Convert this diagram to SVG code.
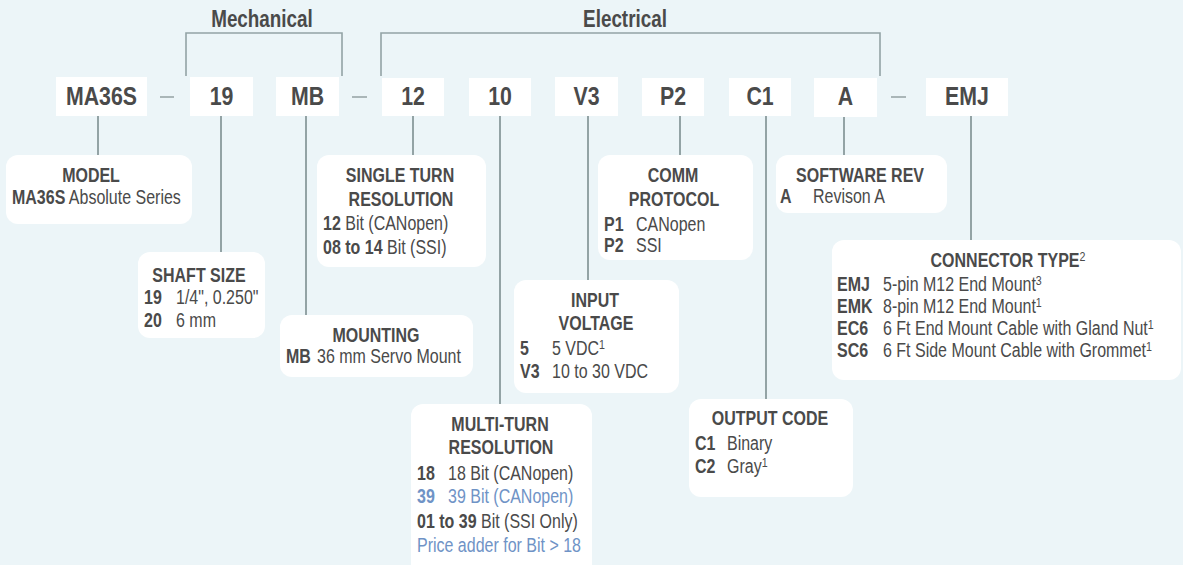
<svg xmlns="http://www.w3.org/2000/svg" width="1183" height="565" viewBox="0 0 1183 565">
<style>
text{font-family:"Liberation Sans Narrow","Arial Narrow","Liberation Sans",Arial,sans-serif;fill:#4a4a4a}
.code{font-size:26px;font-weight:bold;text-anchor:middle}
.grp{font-size:23px;font-weight:bold;text-anchor:middle}
.h{font-size:19.5px;font-weight:bold;text-anchor:middle}
.t{font-size:19.5px}
.b{font-weight:bold}
.blue{fill:#6f93c6}
.sup{font-size:13px;font-weight:normal}
.cbox{fill:#ffffff}
.dbox{fill:#ffffff}
.ln{stroke:#93a3a5;stroke-width:2;fill:none}
.br{stroke:#93a3a5;stroke-width:1.6;fill:none}
.dash{stroke:#aab6b8;stroke-width:2}
</style>
<rect x="0" y="0" width="1183" height="565" fill="#ecf5f8"/>

<g id="connectors">
  <polyline class="br" points="186,76 186,33 342,33 342,76"/>
  <polyline class="br" points="381,76 381,33 880,33 880,76"/>
  <line class="dash" x1="160" y1="97" x2="174" y2="97"/>
  <line class="dash" x1="352" y1="97" x2="367" y2="97"/>
  <line class="dash" x1="891" y1="97" x2="906" y2="97"/>
  <line class="ln" x1="98" y1="116" x2="98" y2="155"/>
  <line class="ln" x1="221" y1="116" x2="221" y2="252"/>
  <line class="ln" x1="306" y1="116" x2="306" y2="315"/>
  <line class="ln" x1="413" y1="116" x2="413" y2="155"/>
  <line class="ln" x1="500" y1="116" x2="500" y2="404"/>
  <line class="ln" x1="588" y1="116" x2="588" y2="280"/>
  <line class="ln" x1="680" y1="116" x2="680" y2="155"/>
  <line class="ln" x1="766" y1="116" x2="766" y2="399"/>
  <line class="ln" x1="844" y1="117" x2="844" y2="155"/>
  <line class="ln" x1="971" y1="116" x2="971" y2="240"/>
</g>

<g id="group-labels">
  <text class="grp" transform="translate(262 27) scale(.82 1)">Mechanical</text>
  <text class="grp" transform="translate(625 27) scale(.82 1)">Electrical</text>
</g>

<g id="code-MA36S"><rect class="cbox" x="56" y="77" width="91" height="39"/><text class="code" transform="translate(101.5 105) scale(.82 1)">MA36S</text></g>
<g id="code-19"><rect class="cbox" x="190" y="77" width="63" height="39"/><text class="code" transform="translate(221.5 105) scale(.82 1)">19</text></g>
<g id="code-MB"><rect class="cbox" x="276" y="77" width="63" height="39"/><text class="code" transform="translate(307.5 105) scale(.82 1)">MB</text></g>
<g id="code-12"><rect class="cbox" x="382" y="78" width="62" height="38"/><text class="code" transform="translate(413 105) scale(.82 1)">12</text></g>
<g id="code-10"><rect class="cbox" x="469" y="78" width="62" height="38"/><text class="code" transform="translate(500 105) scale(.82 1)">10</text></g>
<g id="code-V3"><rect class="cbox" x="555" y="77" width="63" height="39"/><text class="code" transform="translate(586.5 105) scale(.82 1)">V3</text></g>
<g id="code-P2"><rect class="cbox" x="642" y="78" width="62" height="38"/><text class="code" transform="translate(673 105) scale(.82 1)">P2</text></g>
<g id="code-C1"><rect class="cbox" x="729" y="78" width="62" height="38"/><text class="code" transform="translate(760 105) scale(.82 1)">C1</text></g>
<g id="code-A"><rect class="cbox" x="814" y="78" width="63" height="39"/><text class="code" transform="translate(845.5 105) scale(.82 1)">A</text></g>
<g id="code-EMJ"><rect class="cbox" x="926" y="78" width="82" height="38"/><text class="code" transform="translate(967 105) scale(.82 1)">EMJ</text></g>

<g id="model">
  <rect class="dbox" x="6" y="155" width="186" height="69" rx="12"/>
  <text class="h" transform="translate(91 182) scale(.82 1)">MODEL</text>
  <text class="t" transform="translate(12 204) scale(.82 1)"><tspan class="b">MA36S</tspan>  Absolute Series</text>
</g>

<g id="shaft-size">
  <rect class="dbox" x="138" y="252" width="127" height="86" rx="12"/>
  <text class="h" transform="translate(199 282) scale(.82 1)">SHAFT SIZE</text>
  <text class="t b" transform="translate(144 304) scale(.82 1)">19</text>
  <text class="t" transform="translate(176 304) scale(.82 1)">1/4", 0.250"</text>
  <text class="t b" transform="translate(144 327) scale(.82 1)">20</text>
  <text class="t" transform="translate(176 327) scale(.82 1)">6 mm</text>
</g>

<g id="mounting">
  <rect class="dbox" x="280" y="315" width="193" height="62" rx="12"/>
  <text class="h" transform="translate(376 342) scale(.82 1)">MOUNTING</text>
  <text class="t b" transform="translate(286 363) scale(.82 1)">MB</text>
  <text class="t" transform="translate(317 363) scale(.82 1)">36 mm Servo Mount</text>
</g>

<g id="single-turn">
  <rect class="dbox" x="317" y="155" width="169" height="112" rx="12"/>
  <text class="h" transform="translate(400 182) scale(.82 1)">SINGLE TURN</text>
  <text class="h" transform="translate(401 206) scale(.82 1)">RESOLUTION</text>
  <text class="t" transform="translate(323 230) scale(.82 1)"><tspan class="b">12</tspan> Bit (CANopen)</text>
  <text class="t" transform="translate(323 254) scale(.82 1)"><tspan class="b">08 to 14</tspan> Bit (SSI)</text>
</g>

<g id="multi-turn">
  <rect class="dbox" x="411" y="404" width="181" height="175" rx="12"/>
  <text class="h" transform="translate(500 431) scale(.82 1)">MULTI-TURN</text>
  <text class="h" transform="translate(501 454) scale(.82 1)">RESOLUTION</text>
  <text class="t b" transform="translate(417 480) scale(.82 1)">18</text>
  <text class="t" transform="translate(448 480) scale(.82 1)">18 Bit (CANopen)</text>
  <text class="t b blue" transform="translate(417 503) scale(.82 1)">39</text>
  <text class="t blue" transform="translate(448 503) scale(.82 1)">39 Bit (CANopen)</text>
  <text class="t" transform="translate(417 528) scale(.82 1)"><tspan class="b">01 to 39</tspan> Bit (SSI Only)</text>
  <text class="t blue" transform="translate(417 552) scale(.82 1)">Price adder for Bit &gt; 18</text>
</g>

<g id="input-voltage">
  <rect class="dbox" x="514" y="280" width="165" height="113" rx="12"/>
  <text class="h" transform="translate(595 307) scale(.82 1)">INPUT</text>
  <text class="h" transform="translate(596 330) scale(.82 1)">VOLTAGE</text>
  <text class="t b" transform="translate(520 355) scale(.82 1)">5</text>
  <text class="t" transform="translate(552 355) scale(.82 1)">5 VDC<tspan class="sup" dy="-6">1</tspan></text>
  <text class="t b" transform="translate(520 378) scale(.82 1)">V3</text>
  <text class="t" transform="translate(552 378) scale(.82 1)">10 to 30 VDC</text>
</g>

<g id="comm-protocol">
  <rect class="dbox" x="598" y="155" width="155" height="105" rx="12"/>
  <text class="h" transform="translate(673 182) scale(.82 1)">COMM</text>
  <text class="h" transform="translate(674 206) scale(.82 1)">PROTOCOL</text>
  <text class="t b" transform="translate(604 231) scale(.82 1)">P1</text>
  <text class="t" transform="translate(636 231) scale(.82 1)">CANopen</text>
  <text class="t b" transform="translate(604 252) scale(.82 1)">P2</text>
  <text class="t" transform="translate(636 252) scale(.82 1)">SSI</text>
</g>

<g id="output-code">
  <rect class="dbox" x="689" y="399" width="164" height="98" rx="12"/>
  <text class="h" transform="translate(770 425) scale(.82 1)">OUTPUT CODE</text>
  <text class="t b" transform="translate(695 450) scale(.82 1)">C1</text>
  <text class="t" transform="translate(727 450) scale(.82 1)">Binary</text>
  <text class="t b" transform="translate(695 473) scale(.82 1)">C2</text>
  <text class="t" transform="translate(727 473) scale(.82 1)">Gray<tspan class="sup" dy="-6">1</tspan></text>
</g>

<g id="software-rev">
  <rect class="dbox" x="776" y="155" width="171" height="58" rx="12"/>
  <text class="h" transform="translate(860 182) scale(.82 1)">SOFTWARE REV</text>
  <text class="t b" transform="translate(780 203) scale(.82 1)">A</text>
  <text class="t" transform="translate(813 203) scale(.82 1)">Revison A</text>
</g>

<g id="connector-type">
  <rect class="dbox" x="832" y="240" width="349" height="140" rx="12"/>
  <text class="h" transform="translate(1008 267) scale(.82 1)">CONNECTOR TYPE<tspan class="sup" dy="-6">2</tspan></text>
  <text class="t b" transform="translate(837 291) scale(.82 1)">EMJ</text>
  <text class="t" transform="translate(883 291) scale(.82 1)">5-pin M12 End Mount<tspan class="sup" dy="-6">3</tspan></text>
  <text class="t b" transform="translate(837 313) scale(.82 1)">EMK</text>
  <text class="t" transform="translate(883 313) scale(.82 1)">8-pin M12 End Mount<tspan class="sup" dy="-6">1</tspan></text>
  <text class="t b" transform="translate(837 335) scale(.82 1)">EC6</text>
  <text class="t" transform="translate(883 335) scale(.82 1)">6 Ft End Mount Cable with Gland Nut<tspan class="sup" dy="-6">1</tspan></text>
  <text class="t b" transform="translate(837 357) scale(.82 1)">SC6</text>
  <text class="t" transform="translate(883 357) scale(.82 1)">6 Ft Side Mount Cable with Grommet<tspan class="sup" dy="-6">1</tspan></text>
</g>
</svg>
